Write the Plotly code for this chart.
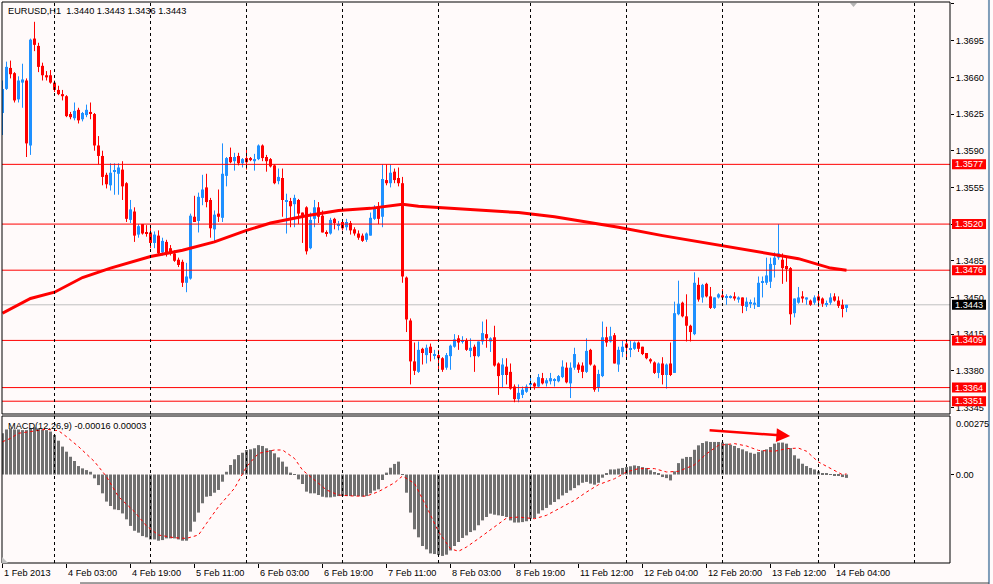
import numpy as np
import plotly.graph_objects as go

BG = "#fffafa"
FONT = "Liberation Sans"

symbol_text = "EURUSD,H1  1.3440 1.3443 1.3436 1.3443"
macd_text = "MACD(12,26,9) -0.00016 0.00003"

# H1 candles, one per bar index (0 = 1 Feb 2013 ... 211 = 14 Feb)
opens = [
    1.3626, 1.3649, 1.3669, 1.3664, 1.3639, 1.3655, 1.3657, 1.3595, 1.3697, 1.3690,
    1.3671, 1.3662, 1.3662, 1.3655, 1.3648, 1.3644, 1.3642, 1.3625, 1.3621, 1.3629,
    1.3620, 1.3624, 1.3627, 1.3625, 1.3595, 1.3585, 1.3567, 1.3557, 1.3570, 1.3568,
    1.3572, 1.3559, 1.3524, 1.3532, 1.3510, 1.3520, 1.3512, 1.3512, 1.3502, 1.3509,
    1.3493, 1.3503, 1.3497, 1.3492, 1.3486, 1.3484, 1.3464, 1.3468, 1.3527, 1.3523,
    1.3545, 1.3555, 1.3543, 1.3515, 1.3530, 1.3526, 1.3566, 1.3584, 1.3580, 1.3585,
    1.3578, 1.3583, 1.3583, 1.3580, 1.3582, 1.3595, 1.3584, 1.3582, 1.3576, 1.3561,
    1.3564, 1.3542, 1.3542, 1.3539, 1.3543, 1.3531, 1.3536, 1.3497, 1.3525, 1.3536,
    1.3528, 1.3512, 1.3511, 1.3525, 1.3519, 1.3522, 1.3517, 1.3521, 1.3515, 1.3511,
    1.3509, 1.3505, 1.3509, 1.3525, 1.3536, 1.3527, 1.3562, 1.3559, 1.3570, 1.3564,
    1.3559, 1.3469, 1.3428, 1.3389, 1.3379, 1.3401, 1.3395, 1.3403, 1.3395, 1.3395,
    1.3392, 1.3383, 1.3394, 1.3403, 1.3411, 1.3408, 1.3409, 1.3399, 1.3403, 1.3394,
    1.3408, 1.3415, 1.3408, 1.3412, 1.3387, 1.3376, 1.3384, 1.3379, 1.3365, 1.3353,
    1.3357, 1.3360, 1.3367, 1.3368, 1.3365, 1.3373, 1.3368, 1.3370, 1.3371, 1.3370,
    1.3374, 1.3383, 1.3368, 1.3383, 1.3386, 1.3385, 1.3379, 1.3400, 1.3385, 1.3364,
    1.3375, 1.3412, 1.3408, 1.3414, 1.3386, 1.3398, 1.3406, 1.3400, 1.3401, 1.3407,
    1.3403, 1.3397, 1.3391, 1.3388, 1.3378, 1.3387, 1.3376, 1.3387, 1.3378, 1.3434,
    1.3445, 1.3432, 1.3423, 1.3415, 1.3462, 1.3450, 1.3463, 1.3451, 1.3440, 1.3450,
    1.3452, 1.3450, 1.3450, 1.3451, 1.3448, 1.3450, 1.3441, 1.3444, 1.3443, 1.3441,
    1.3464, 1.3464, 1.3465, 1.3481, 1.3488, 1.3486, 1.3480, 1.3478, 1.3435, 1.3445,
    1.3451, 1.3448, 1.3447, 1.3445, 1.3451, 1.3449, 1.3443, 1.3445, 1.3451, 1.3447,
    1.3443, 1.3440,
]
closes = [
    1.3649, 1.3670, 1.3663, 1.3638, 1.3657, 1.3658, 1.3597, 1.3696, 1.3691, 1.3670,
    1.3662, 1.3660, 1.3655, 1.3648, 1.3644, 1.3642, 1.3623, 1.3622, 1.3628, 1.3619,
    1.3626, 1.3629, 1.3625, 1.3595, 1.3585, 1.3565, 1.3558, 1.3569, 1.3571, 1.3574,
    1.3556, 1.3525, 1.3534, 1.3509, 1.3518, 1.3511, 1.3511, 1.3502, 1.3510, 1.3492,
    1.3504, 1.3492, 1.3492, 1.3485, 1.3481, 1.3464, 1.3470, 1.3528, 1.3522, 1.3546,
    1.3553, 1.3541, 1.3516, 1.3529, 1.3527, 1.3568, 1.3583, 1.3579, 1.3584, 1.3578,
    1.3582, 1.3579, 1.3581, 1.3582, 1.3595, 1.3583, 1.3580, 1.3575, 1.3559, 1.3565,
    1.3543, 1.3543, 1.3537, 1.3545, 1.3530, 1.3528, 1.3494, 1.3524, 1.3536, 1.3527,
    1.3512, 1.3511, 1.3524, 1.3521, 1.3520, 1.3516, 1.3522, 1.3514, 1.3511, 1.3507,
    1.3504, 1.3511, 1.3526, 1.3536, 1.3525, 1.3563, 1.3559, 1.3569, 1.3562, 1.3559,
    1.3470, 1.3429, 1.3389, 1.3380, 1.3400, 1.3397, 1.3402, 1.3397, 1.3396, 1.3392,
    1.3381, 1.3395, 1.3404, 1.3410, 1.3407, 1.3409, 1.3400, 1.3402, 1.3394, 1.3408,
    1.3416, 1.3411, 1.3411, 1.3385, 1.3375, 1.3386, 1.3376, 1.3363, 1.3353, 1.3359,
    1.3362, 1.3365, 1.3368, 1.3365, 1.3374, 1.3368, 1.3371, 1.3373, 1.3372, 1.3375,
    1.3384, 1.3369, 1.3383, 1.3396, 1.3381, 1.3379, 1.3399, 1.3386, 1.3362, 1.3377,
    1.3412, 1.3407, 1.3413, 1.3387, 1.3400, 1.3403, 1.3402, 1.3401, 1.3407, 1.3401,
    1.3396, 1.3392, 1.3389, 1.3378, 1.3387, 1.3376, 1.3386, 1.3376, 1.3435, 1.3444,
    1.3432, 1.3423, 1.3417, 1.3464, 1.3448, 1.3462, 1.3451, 1.3440, 1.3450, 1.3453,
    1.3450, 1.3451, 1.3451, 1.3449, 1.3450, 1.3442, 1.3446, 1.3445, 1.3445, 1.3464,
    1.3465, 1.3471, 1.3482, 1.3488, 1.3492, 1.3478, 1.3477, 1.3434, 1.3449, 1.3450,
    1.3449, 1.3450, 1.3443, 1.3450, 1.3447, 1.3444, 1.3444, 1.3450, 1.3447, 1.3442,
    1.3439, 1.3443,
]
highs = [
    1.3657, 1.3675, 1.3676, 1.3665, 1.3661, 1.3673, 1.3659, 1.3697, 1.3713, 1.3693,
    1.3674, 1.3666, 1.3667, 1.3657, 1.3652, 1.3648, 1.3643, 1.3627, 1.3636, 1.3631,
    1.3627, 1.3634, 1.3636, 1.3626, 1.3604, 1.3590, 1.3569, 1.3578, 1.3578, 1.3578,
    1.3580, 1.3560, 1.3543, 1.3536, 1.3520, 1.3520, 1.3519, 1.3519, 1.3513, 1.3514,
    1.3507, 1.3505, 1.3500, 1.3495, 1.3488, 1.3486, 1.3483, 1.3530, 1.3547, 1.3550,
    1.3567, 1.3568, 1.3545, 1.3533, 1.3553, 1.3597, 1.3584, 1.3593, 1.3588, 1.3588,
    1.3583, 1.3591, 1.3584, 1.3587, 1.3596, 1.3596, 1.3586, 1.3583, 1.3577, 1.3573,
    1.3573, 1.3549, 1.3545, 1.3548, 1.3544, 1.3531, 1.3537, 1.3531, 1.3543, 1.3541,
    1.3533, 1.3514, 1.3526, 1.3526, 1.3523, 1.3524, 1.3525, 1.3523, 1.3517, 1.3514,
    1.3511, 1.3512, 1.3531, 1.3538, 1.3541, 1.3577, 1.3577, 1.3577, 1.3573, 1.3574,
    1.3565, 1.3470, 1.3430, 1.3407, 1.3408, 1.3402, 1.3405, 1.3406, 1.3400, 1.3400,
    1.3393, 1.3397, 1.3405, 1.3415, 1.3414, 1.3413, 1.3411, 1.3411, 1.3405, 1.3408,
    1.3427, 1.3429, 1.3412, 1.3423, 1.3388, 1.3392, 1.3392, 1.3387, 1.3367, 1.3367,
    1.3365, 1.3367, 1.3374, 1.3369, 1.3377, 1.3378, 1.3373, 1.3378, 1.3373, 1.3376,
    1.3390, 1.3388, 1.3388, 1.3402, 1.3388, 1.3388, 1.3411, 1.3401, 1.3386, 1.3381,
    1.3427, 1.3422, 1.3422, 1.3416, 1.3403, 1.3409, 1.3408, 1.3409, 1.3408, 1.3408,
    1.3403, 1.3397, 1.3392, 1.3389, 1.3388, 1.3393, 1.3387, 1.3407, 1.3446, 1.3466,
    1.3446, 1.3453, 1.3424, 1.3474, 1.3469, 1.3463, 1.3464, 1.3460, 1.3450, 1.3454,
    1.3458, 1.3453, 1.3452, 1.3455, 1.3451, 1.3450, 1.3450, 1.3448, 1.3450, 1.3470,
    1.3470, 1.3488, 1.3488, 1.3493, 1.3520, 1.3492, 1.3488, 1.3479, 1.3449, 1.3460,
    1.3456, 1.3450, 1.3448, 1.3452, 1.3454, 1.3450, 1.3447, 1.3454, 1.3454, 1.3451,
    1.3448, 1.3443,
]
lows = [
    1.3605, 1.3648, 1.3659, 1.3636, 1.3636, 1.3631, 1.3584, 1.3586, 1.3685, 1.3665,
    1.3657, 1.3657, 1.3654, 1.3646, 1.3643, 1.3638, 1.3622, 1.3620, 1.3619, 1.3616,
    1.3618, 1.3622, 1.3620, 1.3590, 1.3577, 1.3557, 1.3554, 1.3552, 1.3548, 1.3548,
    1.3543, 1.3522, 1.3521, 1.3503, 1.3507, 1.3510, 1.3508, 1.3497, 1.3497, 1.3490,
    1.3490, 1.3489, 1.3490, 1.3484, 1.3479, 1.3460, 1.3455, 1.3467, 1.3522, 1.3512,
    1.3538, 1.3536, 1.3507, 1.3502, 1.3522, 1.3522, 1.3556, 1.3578, 1.3571, 1.3576,
    1.3574, 1.3572, 1.3580, 1.3571, 1.3581, 1.3580, 1.3570, 1.3574, 1.3558, 1.3558,
    1.3527, 1.3511, 1.3517, 1.3517, 1.3520, 1.3502, 1.3491, 1.3496, 1.3517, 1.3521,
    1.3512, 1.3508, 1.3510, 1.3515, 1.3514, 1.3514, 1.3514, 1.3510, 1.3509, 1.3505,
    1.3503, 1.3503, 1.3509, 1.3524, 1.3520, 1.3517, 1.3557, 1.3555, 1.3559, 1.3556,
    1.3464, 1.3417, 1.3367, 1.3376, 1.3378, 1.3386, 1.3387, 1.3389, 1.3391, 1.3381,
    1.3379, 1.3381, 1.3381, 1.3402, 1.3400, 1.3406, 1.3399, 1.3393, 1.3379, 1.3393,
    1.3405, 1.3402, 1.3398, 1.3384, 1.3357, 1.3364, 1.3367, 1.3362, 1.3350, 1.3350,
    1.3354, 1.3359, 1.3364, 1.3362, 1.3364, 1.3367, 1.3365, 1.3367, 1.3365, 1.3369,
    1.3373, 1.3368, 1.3354, 1.3381, 1.3378, 1.3373, 1.3378, 1.3385, 1.3360, 1.3360,
    1.3374, 1.3403, 1.3407, 1.3387, 1.3379, 1.3393, 1.3392, 1.3393, 1.3400, 1.3398,
    1.3395, 1.3391, 1.3387, 1.3377, 1.3373, 1.3367, 1.3363, 1.3375, 1.3378, 1.3433,
    1.3431, 1.3408, 1.3408, 1.3414, 1.3446, 1.3445, 1.3450, 1.3439, 1.3439, 1.3449,
    1.3450, 1.3443, 1.3449, 1.3447, 1.3445, 1.3435, 1.3437, 1.3440, 1.3439, 1.3441,
    1.3450, 1.3462, 1.3459, 1.3469, 1.3486, 1.3463, 1.3465, 1.3424, 1.3431, 1.3444,
    1.3445, 1.3443, 1.3442, 1.3443, 1.3441, 1.3441, 1.3441, 1.3443, 1.3446, 1.3440,
    1.3431, 1.3436,
]

# moving average (thick red line), read at a few bars
ma_bars = [0, 7, 13, 20, 27, 37, 45, 53, 61, 67, 76, 84, 92, 100, 104, 113, 121, 129,
           138, 146, 154, 165, 174, 182, 190, 199, 207, 211]
ma_values = [1.3435, 1.3449, 1.3455, 1.3469, 1.3478, 1.3489, 1.3495, 1.3503, 1.3514,
             1.3521, 1.3528, 1.3533, 1.3535, 1.3539, 1.3537, 1.3535, 1.3533, 1.3531,
             1.3527, 1.3522, 1.3517, 1.3509, 1.3503, 1.3498, 1.3493, 1.3487, 1.3478,
             1.3476]

# MACD(12,26,9) main values (histogram), one per bar
macd_main = [
    0.00195, 0.00213, 0.00218, 0.00213, 0.00213, 0.00210, 0.00210, 0.00218, 0.00223, 0.00218,
    0.00213, 0.00210, 0.00203, 0.00187, 0.00160, 0.00132, 0.00108, 0.00084, 0.00064, 0.00040,
    0.00029, 0.00021, 0.00013, -0.00018, -0.00050, -0.00089, -0.00128, -0.00149, -0.00165, -0.00168,
    -0.00184, -0.00212, -0.00243, -0.00266, -0.00275, -0.00291, -0.00297, -0.00307, -0.00307, -0.00313,
    -0.00310, -0.00302, -0.00302, -0.00302, -0.00307, -0.00313, -0.00313, -0.00270, -0.00223, -0.00180,
    -0.00136, -0.00105, -0.00102, -0.00086, -0.00073, -0.00034, 0.00013, 0.00045, 0.00072, 0.00092,
    0.00103, 0.00116, 0.00119, 0.00124, 0.00139, 0.00135, 0.00124, 0.00116, 0.00100, 0.00081,
    0.00061, 0.00037, 0.00009, 0.00002, -0.00023, -0.00045, -0.00081, -0.00089, -0.00089, -0.00097,
    -0.00105, -0.00108, -0.00108, -0.00105, -0.00102, -0.00102, -0.00102, -0.00102, -0.00102, -0.00102,
    -0.00105, -0.00102, -0.00089, -0.00076, -0.00070, -0.00026, 0.00009, 0.00032, 0.00050, 0.00061,
    -0.00002, -0.00086, -0.00180, -0.00259, -0.00297, -0.00338, -0.00354, -0.00373, -0.00376, -0.00381,
    -0.00385, -0.00379, -0.00359, -0.00338, -0.00319, -0.00300, -0.00288, -0.00272, -0.00264, -0.00240,
    -0.00217, -0.00201, -0.00185, -0.00190, -0.00193, -0.00196, -0.00201, -0.00217, -0.00227, -0.00227,
    -0.00225, -0.00221, -0.00209, -0.00206, -0.00185, -0.00169, -0.00158, -0.00143, -0.00130, -0.00117,
    -0.00099, -0.00087, -0.00075, -0.00064, -0.00051, -0.00039, -0.00035, -0.00043, -0.00048, -0.00039,
    -0.00015, 0.00004, 0.00024, 0.00024, 0.00028, 0.00031, 0.00035, 0.00039, 0.00043, 0.00040,
    0.00035, 0.00031, 0.00020, 0.00012, 0.00004, -0.00012, -0.00017, -0.00028, 0.00015, 0.00054,
    0.00075, 0.00083, 0.00083, 0.00117, 0.00138, 0.00149, 0.00157, 0.00154, 0.00154, 0.00154,
    0.00151, 0.00146, 0.00141, 0.00135, 0.00125, 0.00119, 0.00110, 0.00103, 0.00098, 0.00106,
    0.00114, 0.00119, 0.00130, 0.00146, 0.00151, 0.00151, 0.00146, 0.00125, 0.00091, 0.00075,
    0.00051, 0.00040, 0.00031, 0.00024, 0.00015, 0.00004, 0.00004, -0.00001, -0.00007, -0.00007,
    -0.00012, -0.00016,
]

signal_bars = [0, 2, 4, 8, 11, 14, 16, 19, 23, 26, 29, 33, 36, 39, 43, 46, 49, 51, 54, 58,
               61, 64, 68, 70, 73, 75, 78, 81, 84, 88, 91, 94, 98, 100, 103, 106, 109, 112,
               114, 116, 119, 123, 126, 129, 133, 136, 139, 143, 146, 149, 153, 156, 159,
               163, 166, 169, 173, 176, 179, 183, 186, 189, 193, 196, 199, 201, 204, 208,
               210, 211]
signal_values = [0.00155, 0.00171, 0.00195, 0.00207, 0.00214, 0.00207, 0.00179, 0.00132,
                 0.00061, -0.00010, -0.00105, -0.00176, -0.00243, -0.00286, -0.00299,
                 -0.00302, -0.00286, -0.00231, -0.00152, -0.00065, 0.00037, 0.00100,
                 0.00116, 0.00116, 0.00076, 0.00021, -0.00026, -0.00073, -0.00097,
                 -0.00102, -0.00102, -0.00081, -0.00039, -0.00007, -0.00042, -0.00152,
                 -0.00270, -0.00351, -0.00363, -0.00343, -0.00303, -0.00248, -0.00206,
                 -0.00201, -0.00209, -0.00193, -0.00162, -0.00122, -0.00083, -0.00048,
                 -0.00020, 0.00012, 0.00028, 0.00028, 0.00012, 0.00015, 0.00046, 0.00098,
                 0.00138, 0.00146, 0.00135, 0.00114, 0.00110, 0.00122, 0.00125, 0.00110,
                 0.00059, 0.00020, -0.00001, 0.00003]

time_label_bars = [0, 16, 32, 48, 64, 80, 96, 112, 128, 144, 160, 176, 192, 208]
time_labels = ["1 Feb 2013", "4 Feb 03:00", "4 Feb 19:00", "5 Feb 11:00", "6 Feb 03:00",
               "6 Feb 19:00", "7 Feb 11:00", "8 Feb 03:00", "8 Feb 19:00", "11 Feb 12:00",
               "12 Feb 04:00", "12 Feb 20:00", "13 Feb 12:00", "14 Feb 04:00"]
day_start_bars = [13, 37, 61, 85, 109, 132, 156, 180, 204, 228]

level_lines = [1.3577, 1.3520, 1.3476, 1.3409, 1.3364, 1.3351]
bid_price = 1.3443

price_ticks = [1.3730, 1.3695, 1.3660, 1.3625, 1.3590, 1.3555, 1.3520, 1.3485,
               1.3450, 1.3415, 1.3380, 1.3345]
macd_top, macd_bottom = 0.00275, -0.0042

MAIN_DOM = [0.2656, 1.0]
MACD_DOM = [0.0, 0.262]

n = len(opens)
idx = np.arange(n)

fig = go.Figure()

# candles: wicks then bodies
for up, color in [(True, "#1e90ff"), (False, "#ff0000")]:
    sel = [i for i in range(n) if (closes[i] >= opens[i]) == up]
    wx, wy = [], []
    for i in sel:
        wx += [i, i, None]
        wy += [lows[i], highs[i], None]
    fig.add_trace(go.Scatter(x=wx, y=wy, mode="lines", line=dict(color=color, width=1),
                             hoverinfo="skip", xaxis="x", yaxis="y"))
    fig.add_trace(go.Bar(
        x=sel,
        base=[min(opens[i], closes[i]) for i in sel],
        y=[max(abs(closes[i] - opens[i]), 0.0001) for i in sel],
        width=0.75, marker=dict(color=color, line_width=0),
        xaxis="x", yaxis="y"))

fig.add_trace(go.Scatter(x=ma_bars, y=ma_values, mode="lines",
                         line=dict(color="#ff0000", width=3), xaxis="x", yaxis="y"))

# MACD panel
fig.add_trace(go.Bar(x=idx, y=macd_main, width=0.75,
                     marker=dict(color="#707070", line_width=0), xaxis="x", yaxis="y2"))
fig.add_trace(go.Scatter(x=signal_bars, y=signal_values, mode="lines",
                         line=dict(color="#ff0000", width=1, dash="3px,3px"),
                         xaxis="x", yaxis="y2"))

shapes = []
for lv in level_lines:
    shapes.append(dict(type="line", xref="x domain", x0=0, x1=1, yref="y", y0=lv, y1=lv,
                       line=dict(color="#ff0000", width=1)))
shapes.append(dict(type="line", xref="x domain", x0=0, x1=1, yref="y", y0=bid_price,
                   y1=bid_price, line=dict(color="#c0c0c0", width=1), layer="below"))
for b in day_start_bars:
    for yr in ["y domain", "y2 domain"]:
        shapes.append(dict(type="line", xref="x", x0=b, x1=b, yref=yr, y0=0, y1=1,
                           line=dict(color="black", width=1, dash="3px,3px")))
# panel frames
for dom in [MAIN_DOM, MACD_DOM]:
    shapes.append(dict(type="rect", xref="paper", x0=0, x1=1, yref="paper",
                       y0=dom[0], y1=dom[1], line=dict(color="black", width=1)))
# price tags on the right scale
for lv in level_lines + [bid_price]:
    shapes.append(dict(type="rect", xref="paper", x0=1.0021, x1=1.038, yref="y",
                       ysizemode="pixel", yanchor=lv, y0=-5, y1=5,
                       fillcolor="black" if lv == bid_price else "#ff0000",
                       line_width=0, layer="above"))
# small grey markers
shapes.append(dict(type="path", xref="paper", yref="paper",
                   path="M 0.8945 0.9982 L 0.9019 0.9982 L 0.8982 0.9911 Z",
                   fillcolor="#b4b4b4", line_width=0))
shapes.append(dict(type="path", xref="paper", yref="paper",
                   path="M 0 0 L 0.0063 0 L 0 0.0107 Z", fillcolor="#c0c0c0", line_width=0))
# window edges
shapes.append(dict(type="line", xref="paper", yref="paper", x0=1.0411, x1=1.0411,
                   y0=-0.04, y1=1.01, line=dict(color="#7f9db9", width=2)))
shapes.append(dict(type="line", xref="paper", yref="paper", x0=0.0823, x1=1.0411,
                   y0=-0.0357, y1=-0.0357, line=dict(color="#404040", width=1)))

annotations = [
    dict(text=symbol_text, xref="paper", yref="paper", x=0.0042, y=0.9848,
         xanchor="left", yanchor="middle", showarrow=False),
    dict(text=macd_text, xref="paper", yref="paper", x=0.0042, y=0.2442,
         xanchor="left", yanchor="middle", showarrow=False),
    dict(text=f"{macd_top:.5f}", xref="paper", yref="y2", x=1.0042, y=macd_top, yshift=-8,
         xanchor="left", yanchor="middle", showarrow=False),
    dict(text=f"{macd_bottom:.4f}", xref="paper", yref="y2", x=1.0042, y=macd_bottom,
         yshift=7, xanchor="left", yanchor="middle", showarrow=False),
    # red arrow over the MACD peaks
    dict(x=196.9, y=0.00182, xref="x", yref="y2", ax=176.4, ay=0.0021, axref="x",
         ayref="y2", text="", showarrow=True, arrowhead=2, arrowsize=1.1,
         arrowwidth=2.5, arrowcolor="#ff0000"),
]
for lv in level_lines + [bid_price]:
    annotations.append(dict(text=f"{lv:.4f}", xref="paper", yref="y", x=1.0201, y=lv,
                            xanchor="center", yanchor="middle", showarrow=False,
                            font=dict(color="white")))
for b, t in zip(time_label_bars, time_labels):
    annotations.append(dict(text=t, xref="x", yref="paper", x=b, y=-0.0178, xshift=-1,
                            xanchor="left", yanchor="middle", showarrow=False))

fig.update_layout(
    width=993, height=584,
    margin=dict(l=2, r=43, t=2, b=21),
    paper_bgcolor=BG, plot_bgcolor=BG,
    showlegend=False, barmode="overlay",
    font=dict(family=FONT, size=9.2, color="black"),
    xaxis=dict(range=[-0.125, 236.875], anchor="y2", showgrid=False, zeroline=False,
               showline=False, tickvals=time_label_bars, ticks="outside", ticklen=4,
               tickcolor="black", showticklabels=False),
    yaxis=dict(domain=MAIN_DOM, range=[1.33388, 1.37319], side="right", anchor="x",
               showgrid=False, zeroline=False, showline=False,
               tickvals=price_ticks, ticktext=[f"{p:.4f}" for p in price_ticks],
               ticks="outside", ticklen=3, tickcolor="black"),
    yaxis2=dict(domain=MACD_DOM, range=[-0.004184, 0.002766], side="right", anchor="x",
                showgrid=False, zeroline=False, showline=False,
                tickvals=[0], ticktext=["0.00"], ticks="outside", ticklen=3,
                tickcolor="black"),
    shapes=shapes,
    annotations=annotations,
)

# the page's default body margin would shift the chart; remove it
fig.write_html("out.html", config={"displayModeBar": False},
               post_script="document.body.style.margin='0px';")
